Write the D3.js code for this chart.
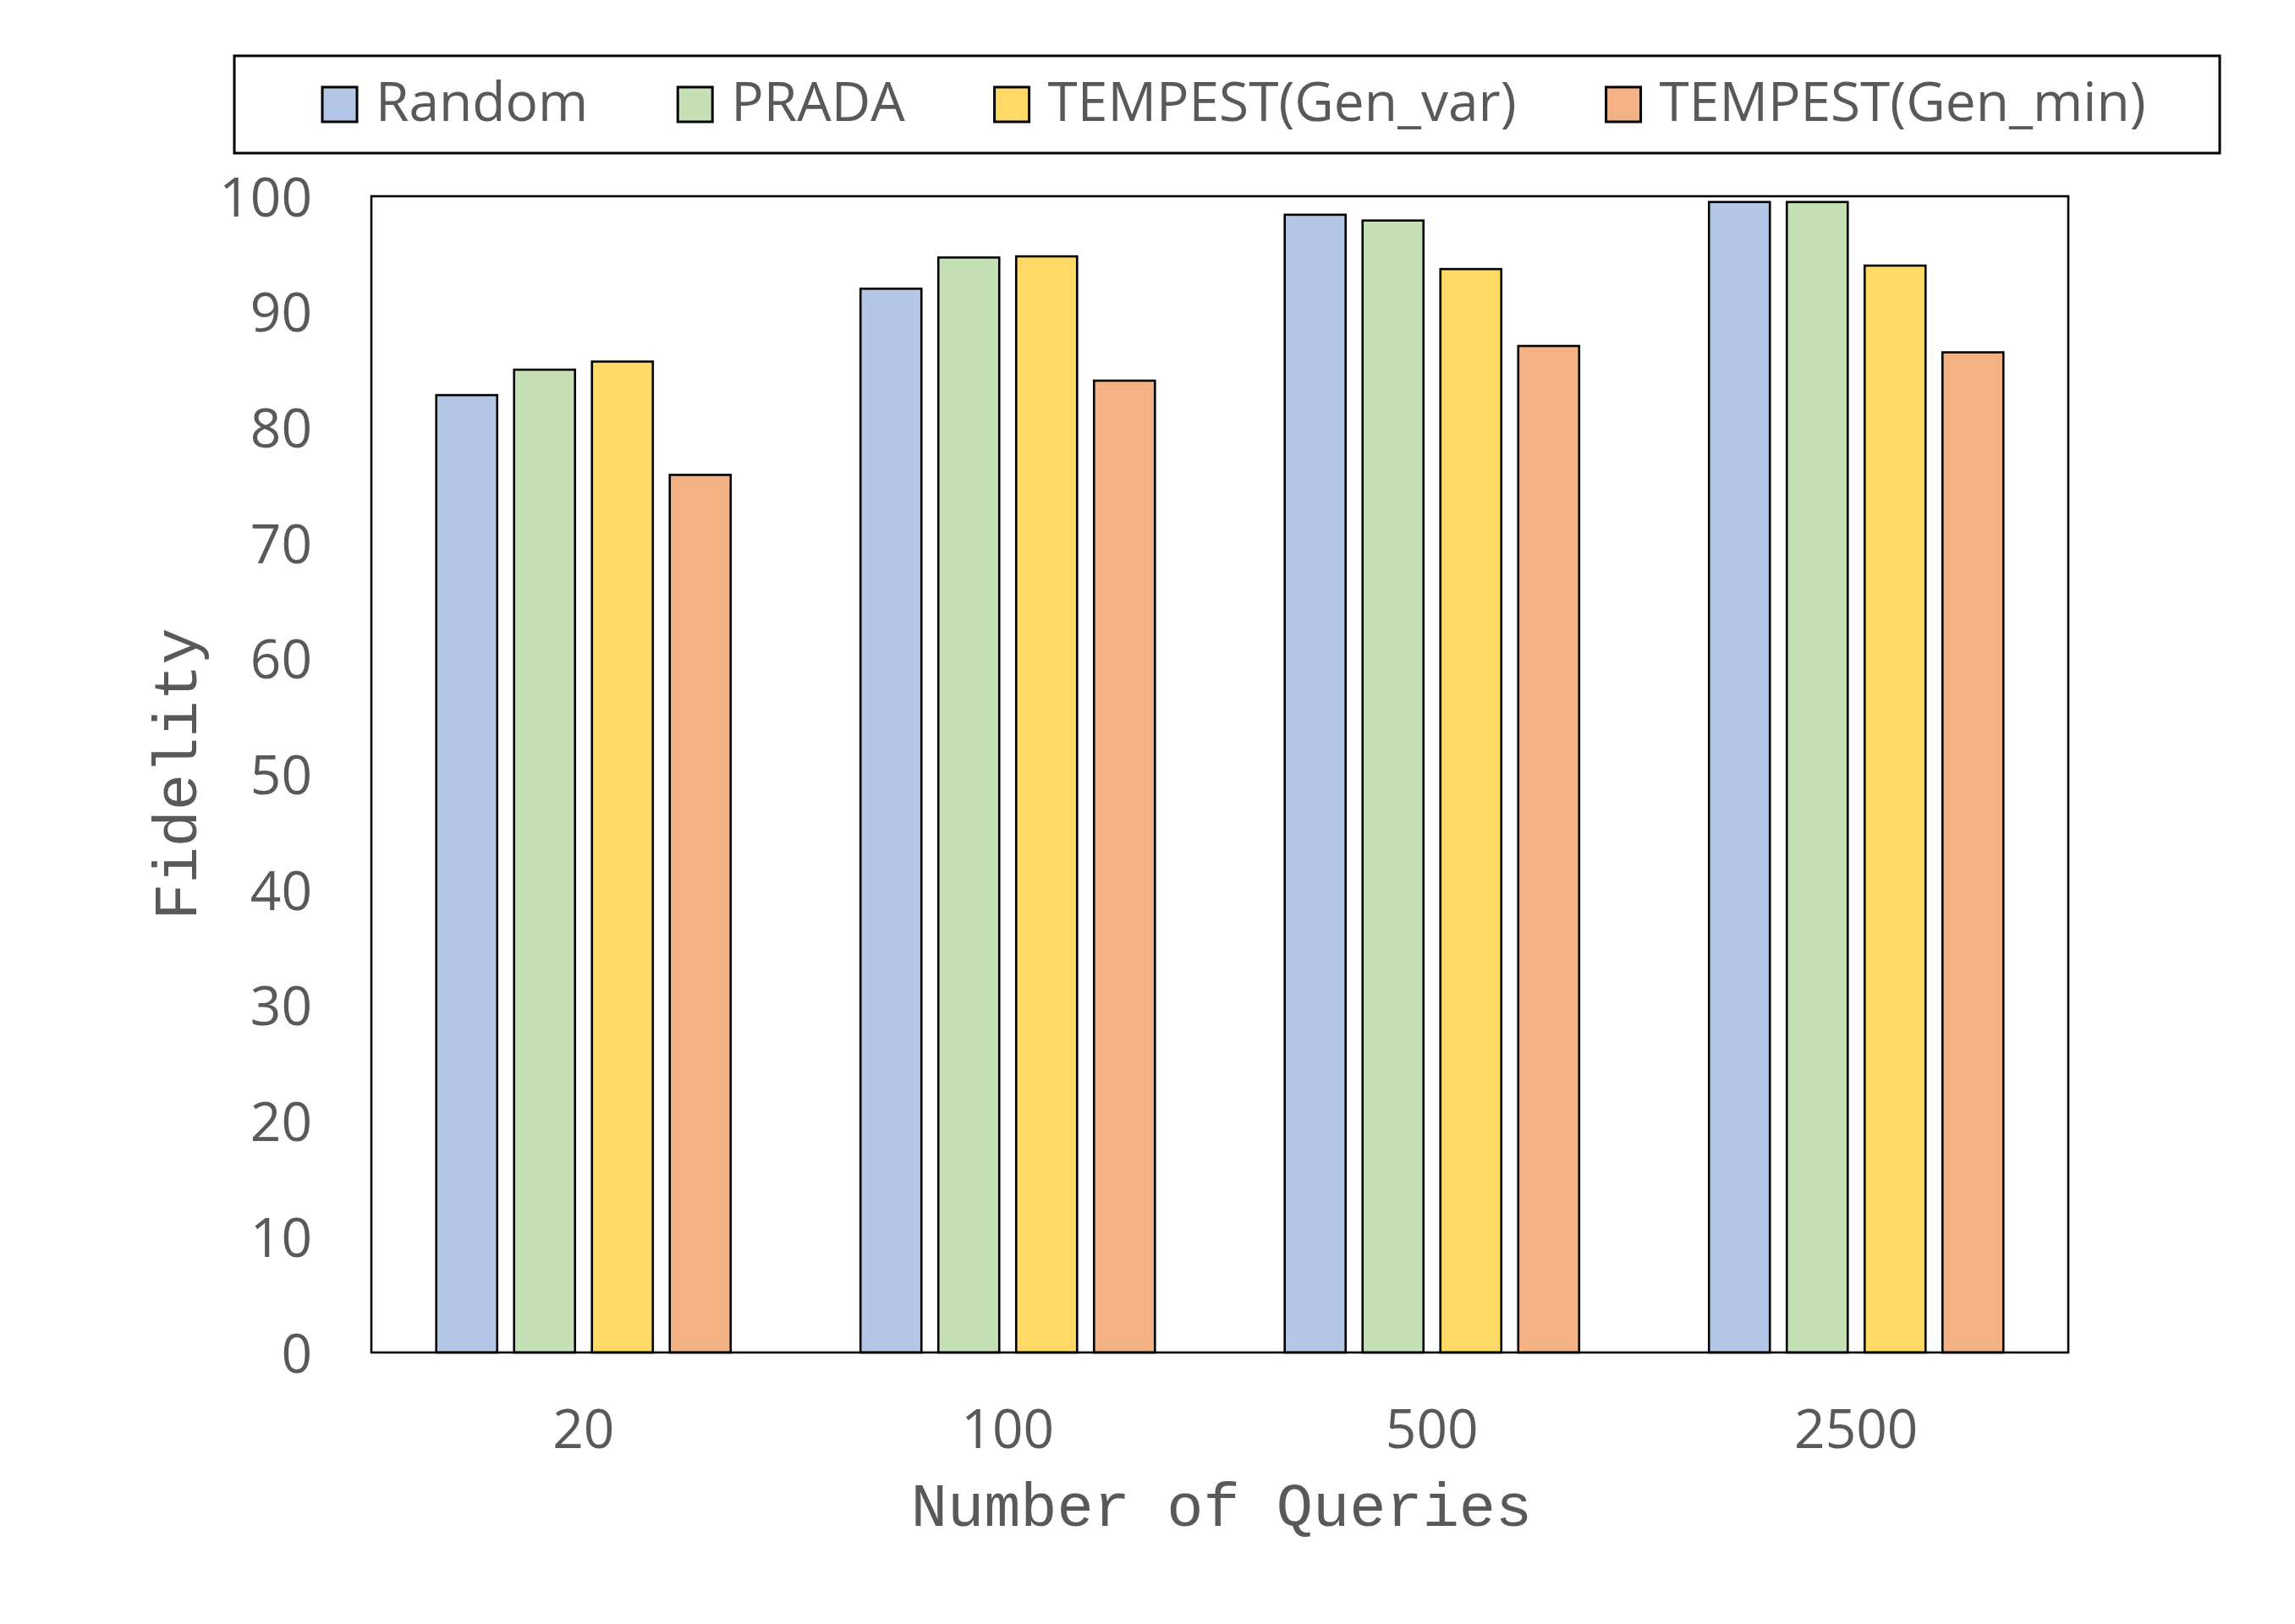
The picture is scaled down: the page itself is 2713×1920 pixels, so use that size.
<!DOCTYPE html>
<html>
<head>
<meta charset="utf-8">
<script src="https://cdn.jsdelivr.net/npm/d3@7"></script>
<style>
  html, body { margin: 0; padding: 0; background: #fff; }
  svg { display: block; }
</style>
</head>
<body>
<svg id="chart" width="2713" height="1920"></svg>
<script>
// ---- data ----
const categories = ["20", "100", "500", "2500"];
const seriesNames = ["Random", "PRADA", "TEMPEST(Gen_var)", "TEMPEST(Gen_min)"];
const randomVals  = [82.8, 92.0, 98.4, 99.5];
const pradaVals   = [85.0, 94.7, 97.9, 99.5];
const genVarVals  = [85.7, 94.8, 93.7, 94.0];
const genMinVals  = [75.9, 84.05, 87.05, 86.5];
const yTicks = [0, 10, 20, 30, 40, 50, 60, 70, 80, 90, 100];
const colors = ["#B4C7E7", "#C5E0B4", "#FFD966", "#F4B183"];

const seriesValues = [randomVals, pradaVals, genVarVals, genMinVals];

// ---- layout ----
const W = 2713, H = 1920;
const plot = { left: 439, right: 2445, top: 232, bottom: 1599 };
const textColor = "#595959";
const sansFont = "'Open Sans', 'Noto Sans', sans-serif";
const monoFont = "'Liberation Mono', 'DejaVu Sans Mono', monospace";

const svg = d3.select("#chart");
svg.append("rect").attr("width", W).attr("height", H).attr("fill", "#fff");

const x0 = d3.scaleBand()
  .domain(categories)
  .range([plot.left, plot.right])
  .paddingInner(0.306)
  .paddingOuter(0.153);

const x1 = d3.scaleBand()
  .domain(seriesNames)
  .range([0, x0.bandwidth()])
  .paddingInner(0.2174)
  .paddingOuter(0);

const y = d3.scaleLinear().domain([0, 100]).range([plot.bottom, plot.top]);

// bars
const groups = svg.append("g").selectAll("g")
  .data(categories)
  .join("g")
  .attr("transform", d => `translate(${x0(d)},0)`);

groups.selectAll("rect")
  .data((c, ci) => seriesNames.map((s, si) => ({ s, si, v: seriesValues[si][ci] })))
  .join("rect")
  .attr("x", d => x1(d.s))
  .attr("y", d => y(d.v))
  .attr("width", x1.bandwidth())
  .attr("height", d => y(0) - y(d.v))
  .attr("fill", d => colors[d.si])
  .attr("stroke", "#000")
  .attr("stroke-width", 2.6);

// plot frame
svg.append("rect")
  .attr("x", plot.left).attr("y", plot.top)
  .attr("width", plot.right - plot.left)
  .attr("height", plot.bottom - plot.top)
  .attr("fill", "none")
  .attr("stroke", "#000")
  .attr("stroke-width", 2.6);

// y axis
const yAxis = d3.axisLeft(y).tickValues(yTicks).tickSize(0).tickPadding(70);
const yg = svg.append("g").attr("transform", `translate(${plot.left},0)`).call(yAxis);
yg.select(".domain").remove();
yg.selectAll("text")
  .attr("font-family", sansFont)
  .attr("font-size", 64)
  .attr("fill", textColor)
  .attr("dy", "0.36em");

// x axis
const xAxis = d3.axisBottom(x0).tickSize(0).tickPadding(68);
const xg = svg.append("g").attr("transform", `translate(0,${plot.bottom})`).call(xAxis);
xg.select(".domain").remove();
xg.selectAll("text")
  .attr("font-family", sansFont)
  .attr("font-size", 64)
  .attr("fill", textColor)
  .attr("dy", "0.71em");

// axis titles
svg.append("text")
  .attr("x", (plot.left + plot.right) / 2 + 2)
  .attr("y", 1804)
  .attr("text-anchor", "middle")
  .attr("font-family", monoFont)
  .attr("font-size", 72)
  .attr("fill", textColor)
  .text("Number of Queries");

svg.append("text")
  .attr("transform", `translate(232,${915}) rotate(-90)`)
  .attr("text-anchor", "middle")
  .attr("font-family", monoFont)
  .attr("font-size", 72)
  .attr("fill", textColor)
  .text("Fidelity");

// legend
const legendBox = { left: 277, top: 66, right: 2624, bottom: 181 };
svg.append("rect")
  .attr("x", legendBox.left).attr("y", legendBox.top)
  .attr("width", legendBox.right - legendBox.left)
  .attr("height", legendBox.bottom - legendBox.top)
  .attr("fill", "#fff")
  .attr("stroke", "#000")
  .attr("stroke-width", 3);

const legend = svg.append("g");
let lx = 381;
const sw = 41, swTop = 103, textGap = 22, itemGap = 106;
seriesNames.forEach((name, i) => {
  const item = legend.append("g");
  item.append("rect")
    .attr("x", lx).attr("y", swTop)
    .attr("width", sw).attr("height", sw)
    .attr("fill", colors[i])
    .attr("stroke", "#000")
    .attr("stroke-width", 3);
  const t = item.append("text")
    .attr("x", lx + sw + textGap)
    .attr("y", 143)
    .attr("font-family", sansFont)
    .attr("font-size", 64)
    .attr("fill", textColor)
    .text(name);
  const w = t.node().getComputedTextLength();
  lx = lx + sw + textGap + w + itemGap;
});
</script>
</body>
</html>
